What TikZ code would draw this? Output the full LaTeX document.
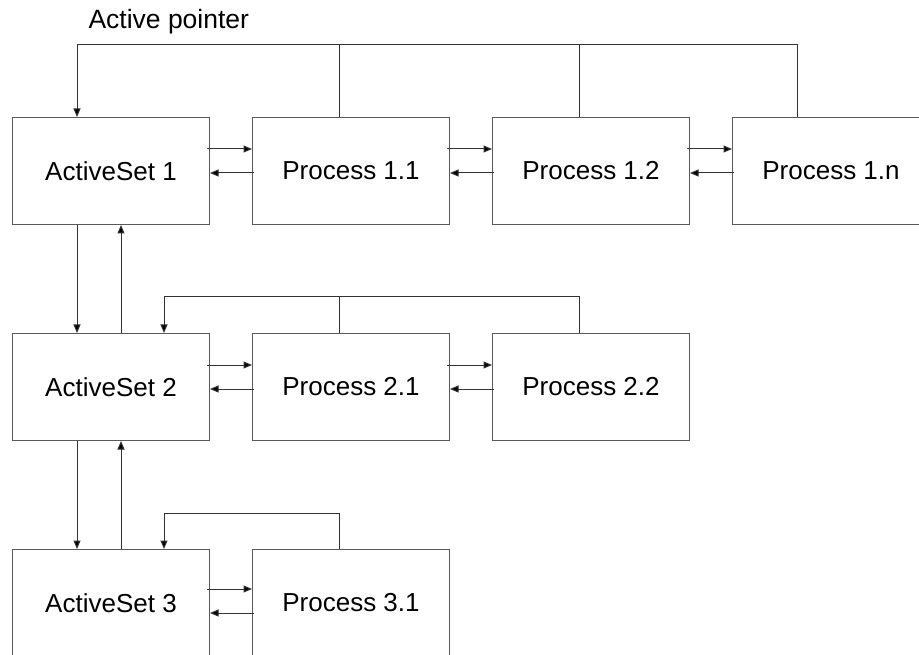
\documentclass[tikz,border=0pt]{standalone}
\usepackage{fontspec}
\setmainfont{Liberation Sans}
\usetikzlibrary{arrows.meta,calc}

\begin{document}
\begin{tikzpicture}[x=1pt,y=-1pt,
  line width=1pt,
  box/.style={draw=black!65, anchor=north west, minimum width=197pt,
              minimum height=107pt, inner sep=0pt, font=\fontsize{26}{30}\selectfont},
  link/.style={draw=black!80},
  arr/.style={link, -{Triangle[length=8.5pt,width=7pt,fill=black]}},
]
\clip (0,0) rectangle (919,655);
\fill[white] (0,0) rectangle (919,655);

% row 1
\node[box] (a1)  at (12,117)  {ActiveSet 1};
\node[box] (p11) at (252,117) {Process 1.1};
\node[box] (p12) at (492,117) {Process 1.2};
\node[box] (p1n) at (732,117) {Process 1.n};
% row 2
\node[box] (a2)  at (12,333)  {ActiveSet 2};
\node[box] (p21) at (252,333) {Process 2.1};
\node[box] (p22) at (492,333) {Process 2.2};
% row 3
\node[box] (a3)  at (12,549)  {ActiveSet 3};
\node[box] (p31) at (252,549) {Process 3.1};

\node[anchor=base west, inner sep=0pt, font=\fontsize{26.5}{30}\selectfont] (lbl) at (88,28.5) {Active pointer};

% active pointer bus of row 1
\draw[arr] ($(p1n.north west)+(65,0)$) -- ++(0,-72) -| ($(a1.north west)+(65,0)$);
\draw[link] ($(p11.north west)+(87,0)$) -- ++(0,-72);
\draw[link] ($(p12.north west)+(87,0)$) -- ++(0,-72);

% bus of row 2
\draw[arr] ($(p22.north west)+(87,0)$) -- ++(0,-36) -| ($(a2.north west)+(152,0)$);
\draw[link] ($(p21.north west)+(87,0)$) -- ++(0,-36);

% bus of row 3
\draw[arr] ($(p31.north west)+(87,0)$) -- ++(0,-36) -| ($(a3.north west)+(152,0)$);

% links between the active sets
\draw[arr] ($(a1.south west)+(65,0)$) -- ($(a2.north west)+(65,0)$);
\draw[arr] ($(a2.north west)+(109,0)$) -- ($(a1.south west)+(109,0)$);
\draw[arr] ($(a2.south west)+(65,0)$) -- ($(a3.north west)+(65,0)$);
\draw[arr] ($(a3.north west)+(109,0)$) -- ($(a2.south west)+(109,0)$);

% forward and backward links along each row
\foreach \l/\r/\t/\b in {a1/p11/32/56, p11/p12/32/56, p12/p1n/32/56,
                         a2/p21/32/56, p21/p22/32/56,
                         a3/p31/40/64} {
  \draw[arr] ($(\l.north east)+(-3,\t)$) -- ($(\r.north west)+(0,\t)$);
  \draw[arr] ($(\r.north west)+(2,\b)$) -- ($(\l.north east)+(0,\b)$);
}
\end{tikzpicture}
\end{document}
